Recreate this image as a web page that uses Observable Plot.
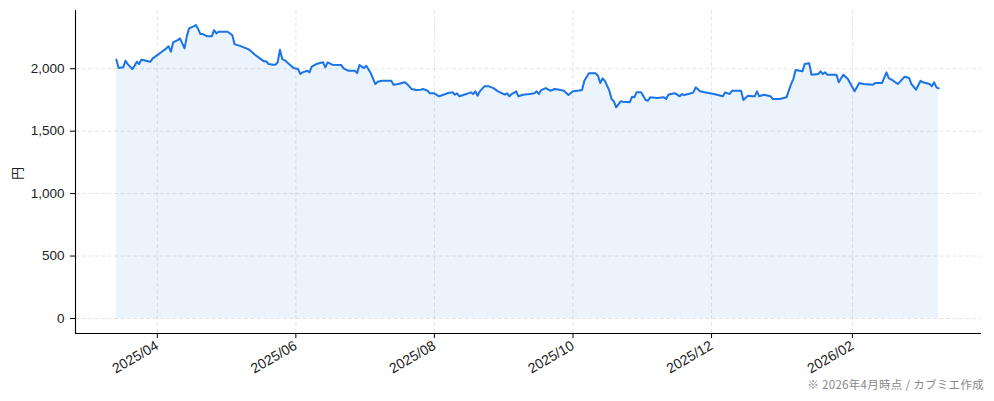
<!DOCTYPE html>
<html>
<head>
<meta charset="utf-8">
<script src="https://cdn.jsdelivr.net/npm/d3@7"></script>
<script src="https://cdn.jsdelivr.net/npm/@observablehq/plot@0.6"></script>
<style>
  html, body { margin: 0; padding: 0; background: #fff; }
  #caption { font-family: 'Noto Sans CJK JP', sans-serif; font-size: 11.5px; letter-spacing: 0.3px; color: #888; text-align: right; padding-right: 10px; line-height: 14px; margin-top: 3px; }
</style>
</head>
<body>
<div id="chart"></div>
<div id="caption">※ 2026年4月時点 / カブミエ作成</div>
<script>
const dates = [
"2025-03-14","2025-03-15","2025-03-17","2025-03-18","2025-03-19","2025-03-21","2025-03-22","2025-03-23","2025-03-24","2025-03-25",
"2025-03-27","2025-03-29","2025-03-30","2025-04-01","2025-04-03","2025-04-05","2025-04-06","2025-04-07","2025-04-08","2025-04-10",
"2025-04-11","2025-04-13","2025-04-14","2025-04-15","2025-04-17","2025-04-18","2025-04-19","2025-04-20","2025-04-21","2025-04-23",
"2025-04-25","2025-04-26","2025-04-27","2025-04-28","2025-05-02","2025-05-04","2025-05-05","2025-05-08","2025-05-11","2025-05-12",
"2025-05-14","2025-05-16","2025-05-18","2025-05-19","2025-05-20","2025-05-22","2025-05-23","2025-05-24","2025-05-25","2025-05-26",
"2025-05-27","2025-05-29","2025-05-31","2025-06-02","2025-06-03","2025-06-04","2025-06-06","2025-06-07","2025-06-08","2025-06-10",
"2025-06-13","2025-06-14","2025-06-15","2025-06-17","2025-06-21","2025-06-22","2025-06-24","2025-06-27","2025-06-28","2025-06-29",
"2025-07-01","2025-07-02","2025-07-04","2025-07-06","2025-07-07","2025-07-09","2025-07-13","2025-07-14","2025-07-16","2025-07-19",
"2025-07-20","2025-07-22","2025-07-24","2025-07-26","2025-07-27","2025-07-29","2025-07-30","2025-08-01","2025-08-03","2025-08-05",
"2025-08-07","2025-08-09","2025-08-10","2025-08-11","2025-08-12","2025-08-15","2025-08-17","2025-08-18","2025-08-19","2025-08-20",
"2025-08-21","2025-08-23","2025-08-25","2025-08-27","2025-08-29","2025-09-01","2025-09-02","2025-09-03","2025-09-04","2025-09-06",
"2025-09-07","2025-09-09","2025-09-12","2025-09-14","2025-09-15","2025-09-16","2025-09-17","2025-09-19","2025-09-21","2025-09-23",
"2025-09-25","2025-09-27","2025-09-29","2025-10-01","2025-10-03","2025-10-05","2025-10-06","2025-10-08","2025-10-11","2025-10-12",
"2025-10-13","2025-10-14","2025-10-15","2025-10-17","2025-10-18","2025-10-19","2025-10-20","2025-10-22","2025-10-23","2025-10-26",
"2025-10-27","2025-10-28","2025-10-29","2025-10-31","2025-11-02","2025-11-03","2025-11-04","2025-11-07","2025-11-10","2025-11-11",
"2025-11-12","2025-11-13","2025-11-15","2025-11-17","2025-11-18","2025-11-19","2025-11-22","2025-11-23","2025-11-24","2025-11-26",
"2025-11-28","2025-12-02","2025-12-06","2025-12-07","2025-12-09","2025-12-10","2025-12-14","2025-12-15","2025-12-17","2025-12-19",
"2025-12-20","2025-12-21","2025-12-22","2025-12-24","2025-12-27","2025-12-28","2025-12-31","2026-01-03","2026-01-04","2026-01-05",
"2026-01-06","2026-01-07","2026-01-10","2026-01-11","2026-01-13","2026-01-14","2026-01-17","2026-01-18","2026-01-19","2026-01-20",
"2026-01-21","2026-01-25","2026-01-26","2026-01-28","2026-01-30","2026-02-01","2026-02-02","2026-02-04","2026-02-06","2026-02-10",
"2026-02-11","2026-02-14","2026-02-16","2026-02-17","2026-02-19","2026-02-21","2026-02-23","2026-02-24","2026-02-26","2026-02-27",
"2026-03-01","2026-03-03","2026-03-04","2026-03-07","2026-03-08","2026-03-09","2026-03-10","2026-03-11"
];
const prices = [
2072,2005,2011,2064,2037,1997,2024,2056,2037,2072,
2064,2056,2083,2109,2136,2163,2179,2136,2211,2229,
2243,2163,2259,2323,2339,2349,2317,2277,2277,2259,
2259,2309,2283,2296,2296,2269,2197,2179,2157,2144,
2112,2085,2059,2059,2037,2032,2032,2051,2152,2077,
2069,2037,2005,1997,1957,1971,1984,1971,2016,2037,
2051,2011,2051,2032,2029,2003,1984,1984,1965,2029,
2005,2024,1963,1877,1896,1904,1904,1872,1877,1891,
1877,1837,1829,1832,1837,1824,1803,1803,1779,1792,
1805,1811,1792,1803,1779,1797,1811,1797,1819,1784,
1819,1859,1859,1845,1819,1792,1803,1779,1797,1819,
1779,1792,1797,1803,1819,1797,1829,1845,1824,1837,
1832,1824,1789,1819,1824,1829,1904,1963,1963,1944,
1885,1923,1904,1824,1757,1739,1691,1739,1736,1731,
1776,1771,1811,1811,1749,1744,1771,1765,1771,1757,
1792,1797,1803,1779,1797,1789,1803,1811,1851,1819,
1811,1797,1779,1811,1797,1824,1824,1749,1784,1779,
1779,1819,1779,1792,1779,1757,1757,1771,1824,1877,
1917,1989,1979,2037,2043,1952,1957,1979,1957,1971,
1952,1952,1891,1952,1917,1851,1819,1885,1877,1872,
1885,1885,1971,1925,1904,1877,1917,1936,1925,1877,
1832,1904,1891,1877,1859,1891,1851,1843
];
const xTickDates = ["2025-04-01","2025-06-01","2025-08-01","2025-10-01","2025-12-01","2026-02-01"];
const yTickValues = [0, 500, 1000, 1500, 2000];
const yLabel = "円";

const data = dates.map((d, i) => ({date: new Date(d), value: prices[i]}));
const xTicks = xTickDates.map(d => new Date(d));
const xDomain = [new Date("2025-02-24T00:00:00Z"), new Date("2026-03-29T20:00:00Z")];
const yDomain = [-120, 2466];

const grid = {stroke: "#000", strokeOpacity: 0.12, strokeDasharray: "4,2.5", strokeWidth: 0.9};

const chart = Plot.plot({
  width: 994,
  height: 374,
  marginTop: 10,
  marginRight: 13,
  marginBottom: 41,
  marginLeft: 75,
  style: {fontFamily: "'Liberation Sans','Noto Sans CJK JP',sans-serif", fontSize: "13.5px", color: "#000", background: "#fff", overflow: "visible"},
  x: {type: "utc", domain: xDomain},
  y: {domain: yDomain},
  marks: [
    Plot.gridY(yTickValues, grid),
    Plot.gridX(xTicks, grid),
    Plot.areaY(data, {x: "date", y: "value", fill: "#1a73e8", fillOpacity: 0.085}),
    Plot.lineY(data, {x: "date", y: "value", stroke: "#1a73e8", strokeWidth: 2}),
    Plot.ruleX([xDomain[0]], {stroke: "#000", strokeWidth: 1.1}),
    Plot.ruleY([yDomain[0]], {stroke: "#000", strokeWidth: 1.1}),
    Plot.axisY(yTickValues, {tickFormat: d3.format(","), tickSize: 5, tickPadding: 6, label: null, fill: "#222"}),
    Plot.axisX(xTicks, {tickFormat: d3.utcFormat("%Y/%m"), tickSize: 5, tickPadding: 6, tickRotate: -30, label: null, fill: "#222", fontSize: 14}),
    Plot.text([yLabel], {text: d => d, frameAnchor: "left", dx: -58, dy: 8, rotate: -90, fontSize: 13, fill: "#222"})
  ]
});
document.getElementById("chart").appendChild(chart);
</script>
</body>
</html>
